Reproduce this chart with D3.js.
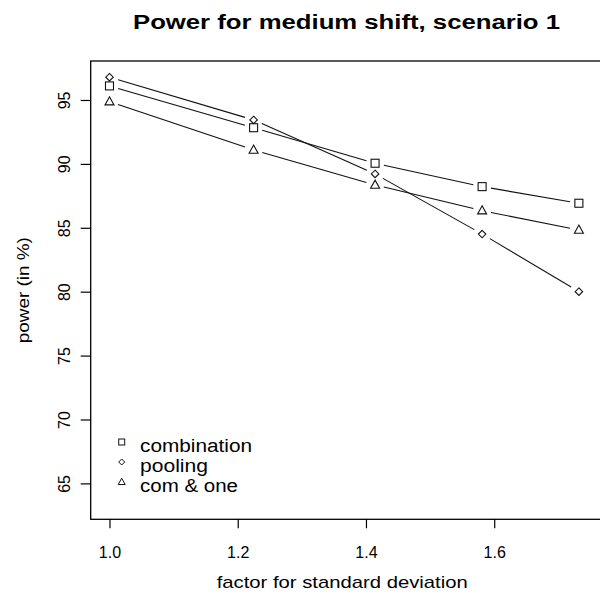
<!DOCTYPE html>
<html><head><meta charset="utf-8">
<script src="https://cdn.jsdelivr.net/npm/d3@7"></script>
<style>body{margin:0;background:#fff}svg{display:block}text{font-family:"Liberation Sans",Arial,sans-serif;fill:#000}</style>
</head><body>
<script>
const factors = [1.0, Math.sqrt(1.5), Math.sqrt(2), Math.sqrt(2.5), Math.sqrt(3)];
const combination = [96.1, 92.83, 90.05, 88.22, 86.92];
const pooling = [96.78, 93.44, 89.21, 84.51, 80.0];
const comOne = [94.87, 91.09, 88.35, 86.34, 84.83];
const seriesNames = ["combination", "pooling", "com & one"];
const seriesShapes = ["square", "diamond", "triangle"];
const xTicks = [1.0, 1.2, 1.4, 1.6];
const yTicks = [65, 70, 75, 80, 85, 90, 95];

const W = 600, H = 598;
const svg = d3.select("body").append("svg").attr("width", W).attr("height", H);
const L = 90.7, T = 61, B = 519.3, R = 602;
const x = d3.scaleLinear().domain([0.9707, 1.7614]).range([L, 597.7]);
const y = d3.scaleLinear().domain([62.19, 98.05]).range([B, T]);

const allSeries = [combination, pooling, comOne];

// box
svg.append("rect").attr("x", L).attr("y", T).attr("width", R - L).attr("height", B - T)
  .attr("fill", "none").attr("stroke", "#000").attr("stroke-width", 1.3);

// axes
const xAx = svg.append("g").attr("transform", `translate(0,${B})`)
  .call(d3.axisBottom(x).tickValues(xTicks).tickFormat(d3.format(".1f")).tickSize(9).tickPadding(18.3));
xAx.select(".domain").remove();
xAx.selectAll("text").attr("font-size", 16).attr("fill", "#222");
xAx.selectAll("line").attr("stroke", "#000").attr("stroke-width", 1.2);

const yAx = svg.append("g").attr("transform", `translate(${L},0)`)
  .call(d3.axisLeft(y).tickValues(yTicks).tickSize(10).tickPadding(0));
yAx.select(".domain").remove();
yAx.selectAll("line").attr("stroke", "#000").attr("stroke-width", 1.2);
yAx.selectAll("text").attr("font-size", 16).attr("fill", "#222")
  .attr("text-anchor", "middle").attr("dy", null).attr("x", null)
  .attr("transform", "translate(-20.5,0) rotate(-90)");

// titles
svg.append("text").attr("x", 133).attr("y", 28.5)
  .attr("font-size", 19.5).attr("font-weight", "bold")
  .attr("textLength", 427).attr("lengthAdjust", "spacingAndGlyphs")
  .text("Power for medium shift, scenario 1");
svg.append("text").attr("x", 216.7).attr("y", 588)
  .attr("font-size", 17).attr("fill", "#222")
  .attr("textLength", 251).attr("lengthAdjust", "spacingAndGlyphs")
  .text("factor for standard deviation");
svg.append("text").attr("transform", `translate(29,${(T + B) / 2}) rotate(-90)`)
  .attr("text-anchor", "middle").attr("font-size", 17).attr("fill", "#222")
  .attr("textLength", 106).attr("lengthAdjust", "spacingAndGlyphs")
  .text("power (in %)");

function sym(g, shape, cx, cy, s) {
  if (shape === "square") {
    g.append("rect").attr("x", cx - s / 2).attr("y", cy - s / 2).attr("width", s).attr("height", s);
  } else if (shape === "diamond") {
    const r = s / 2;
    g.append("path").attr("d", `M${cx},${cy - r}L${cx + r},${cy}L${cx},${cy + r}L${cx - r},${cy}Z`);
  } else {
    const h = s * 0.9;
    g.append("path").attr("d", `M${cx},${cy - h * 0.6}L${cx + s / 2},${cy + h * 0.4}L${cx - s / 2},${cy + h * 0.4}Z`);
  }
}

const gap = 9;
const plot = svg.append("g");
allSeries.forEach((vals, si) => {
  const pts = vals.map((v, i) => [x(factors[i]), y(v)]);
  const g = plot.append("g").attr("fill", "none").attr("stroke", "#111").attr("stroke-width", 1.1);
  for (let i = 0; i < pts.length - 1; i++) {
    const [x1, y1] = pts[i], [x2, y2] = pts[i + 1];
    const dx = x2 - x1, dy = y2 - y1, len = Math.hypot(dx, dy);
    const ux = dx / len, uy = dy / len;
    g.append("line").attr("x1", x1 + ux * gap).attr("y1", y1 + uy * gap)
      .attr("x2", x2 - ux * gap).attr("y2", y2 - uy * gap);
  }
  const sizes = { square: 8, diamond: 7.5, triangle: 9 };
  pts.forEach(([cx, cy]) => sym(g, seriesShapes[si], cx, cy, sizes[seriesShapes[si]]));
});

// legend
const lg = svg.append("g");
const lsizes = { square: 6, diamond: 6, triangle: 7 };
const lwidths = [112, 68, 98];
seriesNames.forEach((n, i) => {
  const cy = 442 + i * 20;
  const g = lg.append("g").attr("fill", "none").attr("stroke", "#111").attr("stroke-width", 1);
  sym(g, seriesShapes[i], 121.7, cy, lsizes[seriesShapes[i]]);
  lg.append("text").attr("x", 140).attr("y", cy + 9.7).attr("font-size", 18).attr("fill", "#222")
    .attr("textLength", lwidths[i]).attr("lengthAdjust", "spacingAndGlyphs").text(n);
});
</script>
</body></html>
